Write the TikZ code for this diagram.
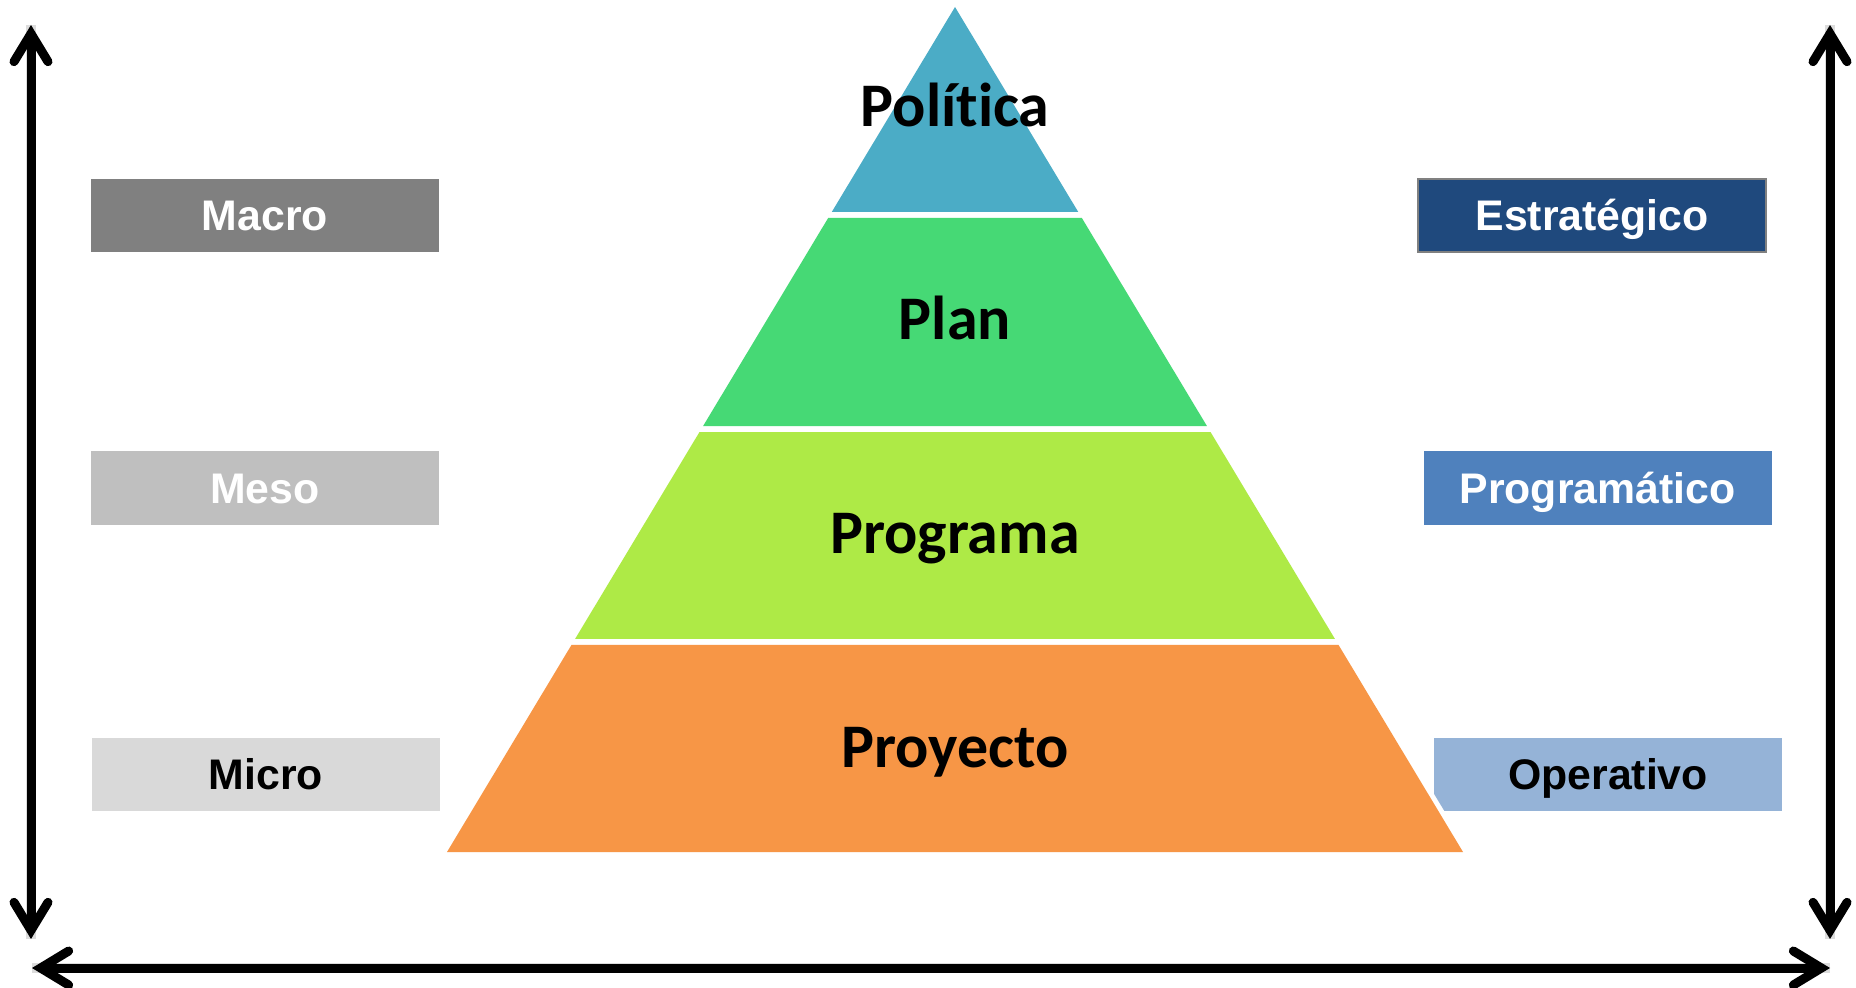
\documentclass[tikz,border=0pt]{standalone}
\usepackage{fontspec}
\setmainfont{Carlito}[Ligatures={NoCommon}]
\newfontfamily\boxfont{Liberation Sans}
\usetikzlibrary{arrows.meta,calc}
\definecolor{polcol}{HTML}{4BACC6}
\definecolor{plancol}{HTML}{46D975}
\definecolor{progcol}{HTML}{AEEA46}
\definecolor{proycol}{HTML}{F79646}
\definecolor{macrocol}{HTML}{808080}
\definecolor{mesocol}{HTML}{BFBFBF}
\definecolor{microcol}{HTML}{D9D9D9}
\definecolor{estcol}{HTML}{1F497D}
\definecolor{prgcol}{HTML}{4F81BD}
\definecolor{opecol}{HTML}{95B3D7}
\begin{document}
\begin{tikzpicture}[x=0.5pt,y=-0.5pt,
  pyrtext/.style={font=\fontsize{31}{31}\selectfont\bfseries, anchor=base, inner sep=0pt},
  tag/.style={rectangle, minimum width=174pt, minimum height=36.5pt, inner sep=0pt,
    font=\boxfont\fontsize{21.4}{21.4}\selectfont\bfseries, text height=15.35pt, text depth=0pt},
  barb/.tip={Straight Barb[length=14pt,width=17pt,line width=4.5pt,line cap=round]},
  axisline/.style={line width=4.5pt, barb-barb},
  axisshadow/.style={line width=5pt, draw=black!30, opacity=0.45, xshift=1.2pt, yshift=-1.8pt}
]
\useasboundingbox (0,0) rectangle (1856,988);
\fill[white] (0,0) rectangle (1856,988);

% side tags
\node[tag, fill=macrocol, text=white] (macro) at (265,215.5) {Macro};
\node[tag, fill=mesocol, text=white] (meso) at (265,488) {Meso};
\node[tag, fill=microcol, text=black] (micro) at (266,774.5) {Micro};
\node[tag, fill=estcol, draw=black!50, line width=1pt, text=white] (estr) at (1592,215.5) {Estratégico};
\node[tag, fill=prgcol, text=white] (progm) at (1597.5,488) {Programático};
\node[tag, fill=opecol, text=black] (oper) at (1608,774.5) {Operativo};

% pyramid
\coordinate (apex) at (955,7);
\coordinate (bl) at (447,852);
\coordinate (br) at (1463,852);
\draw[white, line width=5pt] (apex) -- (bl) -- (br) -- cycle;
\fill[polcol] (apex) -- ($(apex)!0.2426!(br)$) -- ($(apex)!0.2426!(bl)$) -- cycle;
\fill[plancol] ($(apex)!0.2497!(bl)$) -- ($(apex)!0.2497!(br)$) -- ($(apex)!0.4959!(br)$) -- ($(apex)!0.4959!(bl)$) -- cycle;
\fill[progcol] ($(apex)!0.5030!(bl)$) -- ($(apex)!0.5030!(br)$) -- ($(apex)!0.7479!(br)$) -- ($(apex)!0.7479!(bl)$) -- cycle;
\fill[proycol] ($(apex)!0.7550!(bl)$) -- ($(apex)!0.7550!(br)$) -- (br) -- (bl) -- cycle;

\node[pyrtext] (politica) at (955,127) {Política};
\node[pyrtext] (plan) at (955,340) {Plan};
\node[pyrtext] (programa) at (955,553) {Programa};
\node[pyrtext] (proyecto) at (955,767) {Proyecto};

% axes
\coordinate (lt) at (31,25);
\coordinate (lb) at (31,939);
\coordinate (hl) at (32,968);
\coordinate (hr) at (1830,968);
\coordinate (rt) at (1830,25);
\coordinate (rb) at (1830,939);
\draw[axisshadow] (lt) -- (lb);
\draw[axisshadow] (hl) -- (hr);
\draw[axisshadow] (rt) -- (rb);
\draw[axisline] (lt) -- (lb);
\draw[axisline] (hl) -- (hr);
\draw[axisline] (rt) -- (rb);
\end{tikzpicture}
\end{document}
